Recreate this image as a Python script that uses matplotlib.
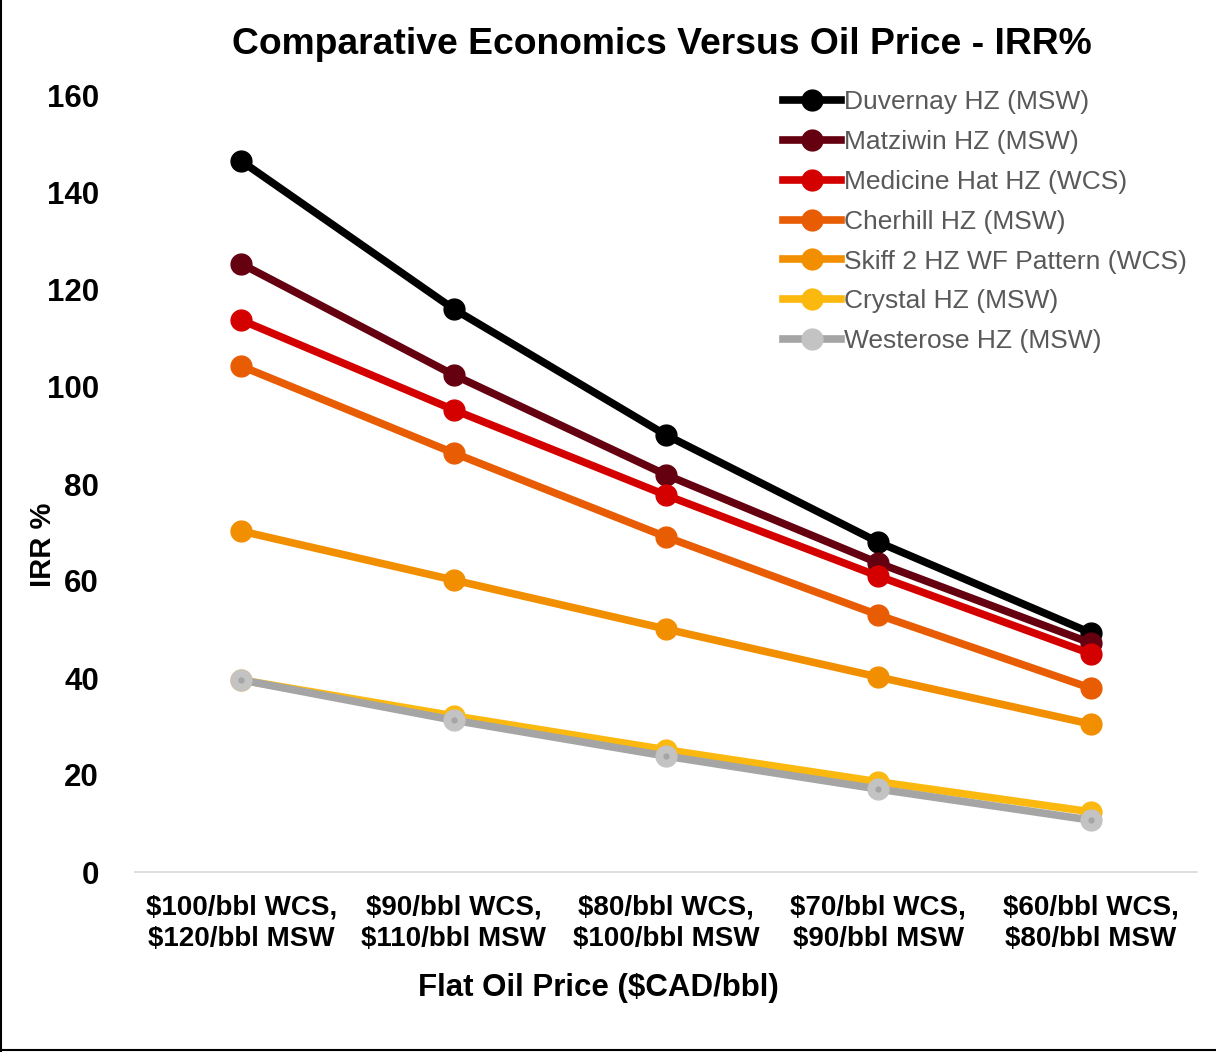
import numpy as np
import matplotlib.pyplot as plt
from matplotlib.lines import Line2D

plt.rcParams['font.family'] = ['Liberation Sans', 'DejaVu Sans']

categorias = ['\\$100/bbl WCS,\n\\$120/bbl MSW', '\\$90/bbl WCS,\n\\$110/bbl MSW',
              '\\$80/bbl WCS,\n\\$100/bbl MSW', '\\$70/bbl WCS,\n\\$90/bbl MSW',
              '\\$60/bbl WCS,\n\\$80/bbl MSW']

duvernay = [146.6, 116.1, 90.1, 68.0, 49.3]
matziwin = [125.4, 102.5, 81.9, 63.7, 47.2]
medicine_hat = [113.8, 95.3, 77.7, 61.0, 45.0]
cherhill = [104.3, 86.4, 69.1, 53.0, 37.9]
skiff = [70.3, 60.2, 50.1, 40.2, 30.5]
crystal = [39.6, 32.2, 25.2, 18.6, 12.4]
westerose = [39.6, 31.3, 23.9, 17.1, 10.7]

series = [
    ('Duvernay HZ (MSW)', duvernay, '#000000', '#000000'),
    ('Matziwin HZ (MSW)', matziwin, '#650010', '#650010'),
    ('Medicine Hat HZ (WCS)', medicine_hat, '#D40000', '#D40000'),
    ('Cherhill HZ (MSW)', cherhill, '#E85D04', '#E85D04'),
    ('Skiff 2 HZ WF Pattern (WCS)', skiff, '#F28F00', '#F28F00'),
    ('Crystal HZ (MSW)', crystal, '#FBB80F', '#FBB80F'),
    ('Westerose HZ (MSW)', westerose, '#A5A5A5', '#C3C3C3'),
]

fig = plt.figure(figsize=(12.16, 10.52), dpi=100)
# borda so na esquerda e embaixo, como no original
fig.add_artist(Line2D([0.001, 0.001], [0.0, 1.0], color='black', linewidth=1.5))
fig.add_artist(Line2D([0.0, 1.0], [0.002, 0.002], color='black', linewidth=1.5))

ax = fig.add_axes([135/1216, 180/1052, (1197-135)/1216, (872-96)/1052])

x = np.arange(len(categorias))
for nome, valores, cor, cor_marker in series:
    ax.plot(x, valores, color=cor, linewidth=5.5, marker='o', markersize=15,
            markerfacecolor=cor_marker, markeredgecolor=cor_marker, label=nome)
    if nome.startswith('Westerose'):
        # pontinho escuro no meio do marcador
        ax.plot(x, valores, linestyle='none', marker='o', markersize=3.5,
                color='#A5A5A5')

ax.set_xlim(-0.5, 4.5)
ax.set_ylim(0, 160)
ax.set_yticks(np.arange(0, 161, 20))
ax.set_xticks(x)
ax.set_xticklabels(categorias, fontsize=20, fontweight='bold', linespacing=1.3)
for t in ax.get_yticklabels():
    t.set_fontsize(22.5)
    t.set_fontweight('bold')
ax.tick_params(axis='x', length=0, pad=16)
ax.tick_params(axis='y', length=0, pad=26)

for lado in ['top', 'right', 'left']:
    ax.spines[lado].set_visible(False)
ax.spines['bottom'].set_color('#D9D9D9')
ax.spines['bottom'].set_linewidth(1.2)

ax.set_xlabel('Flat Oil Price (\\$CAD/bbl)', fontsize=22.5, fontweight='bold')
ax.xaxis.set_label_coords((598 - 135) / 1062, (872 - 973) / 776)
ax.set_ylabel('IRR %', fontsize=21, fontweight='bold')
ax.yaxis.set_label_coords((57 - 135) / 1062, (872 - 545) / 776)
fig.text(662/1216, 1 - 45/1052, 'Comparative Economics Versus Oil Price - IRR%',
         ha='center', va='center', fontsize=26.8, fontweight='bold')

leg = ax.legend(loc='upper right', bbox_to_anchor=(1.0, 1.021), frameon=False,
                fontsize=19, labelspacing=0.6, handlelength=2.2, handletextpad=0.1,
                borderaxespad=0)
for t in leg.get_texts():
    t.set_color('#595959')

fig.savefig('out.png', dpi=100)
